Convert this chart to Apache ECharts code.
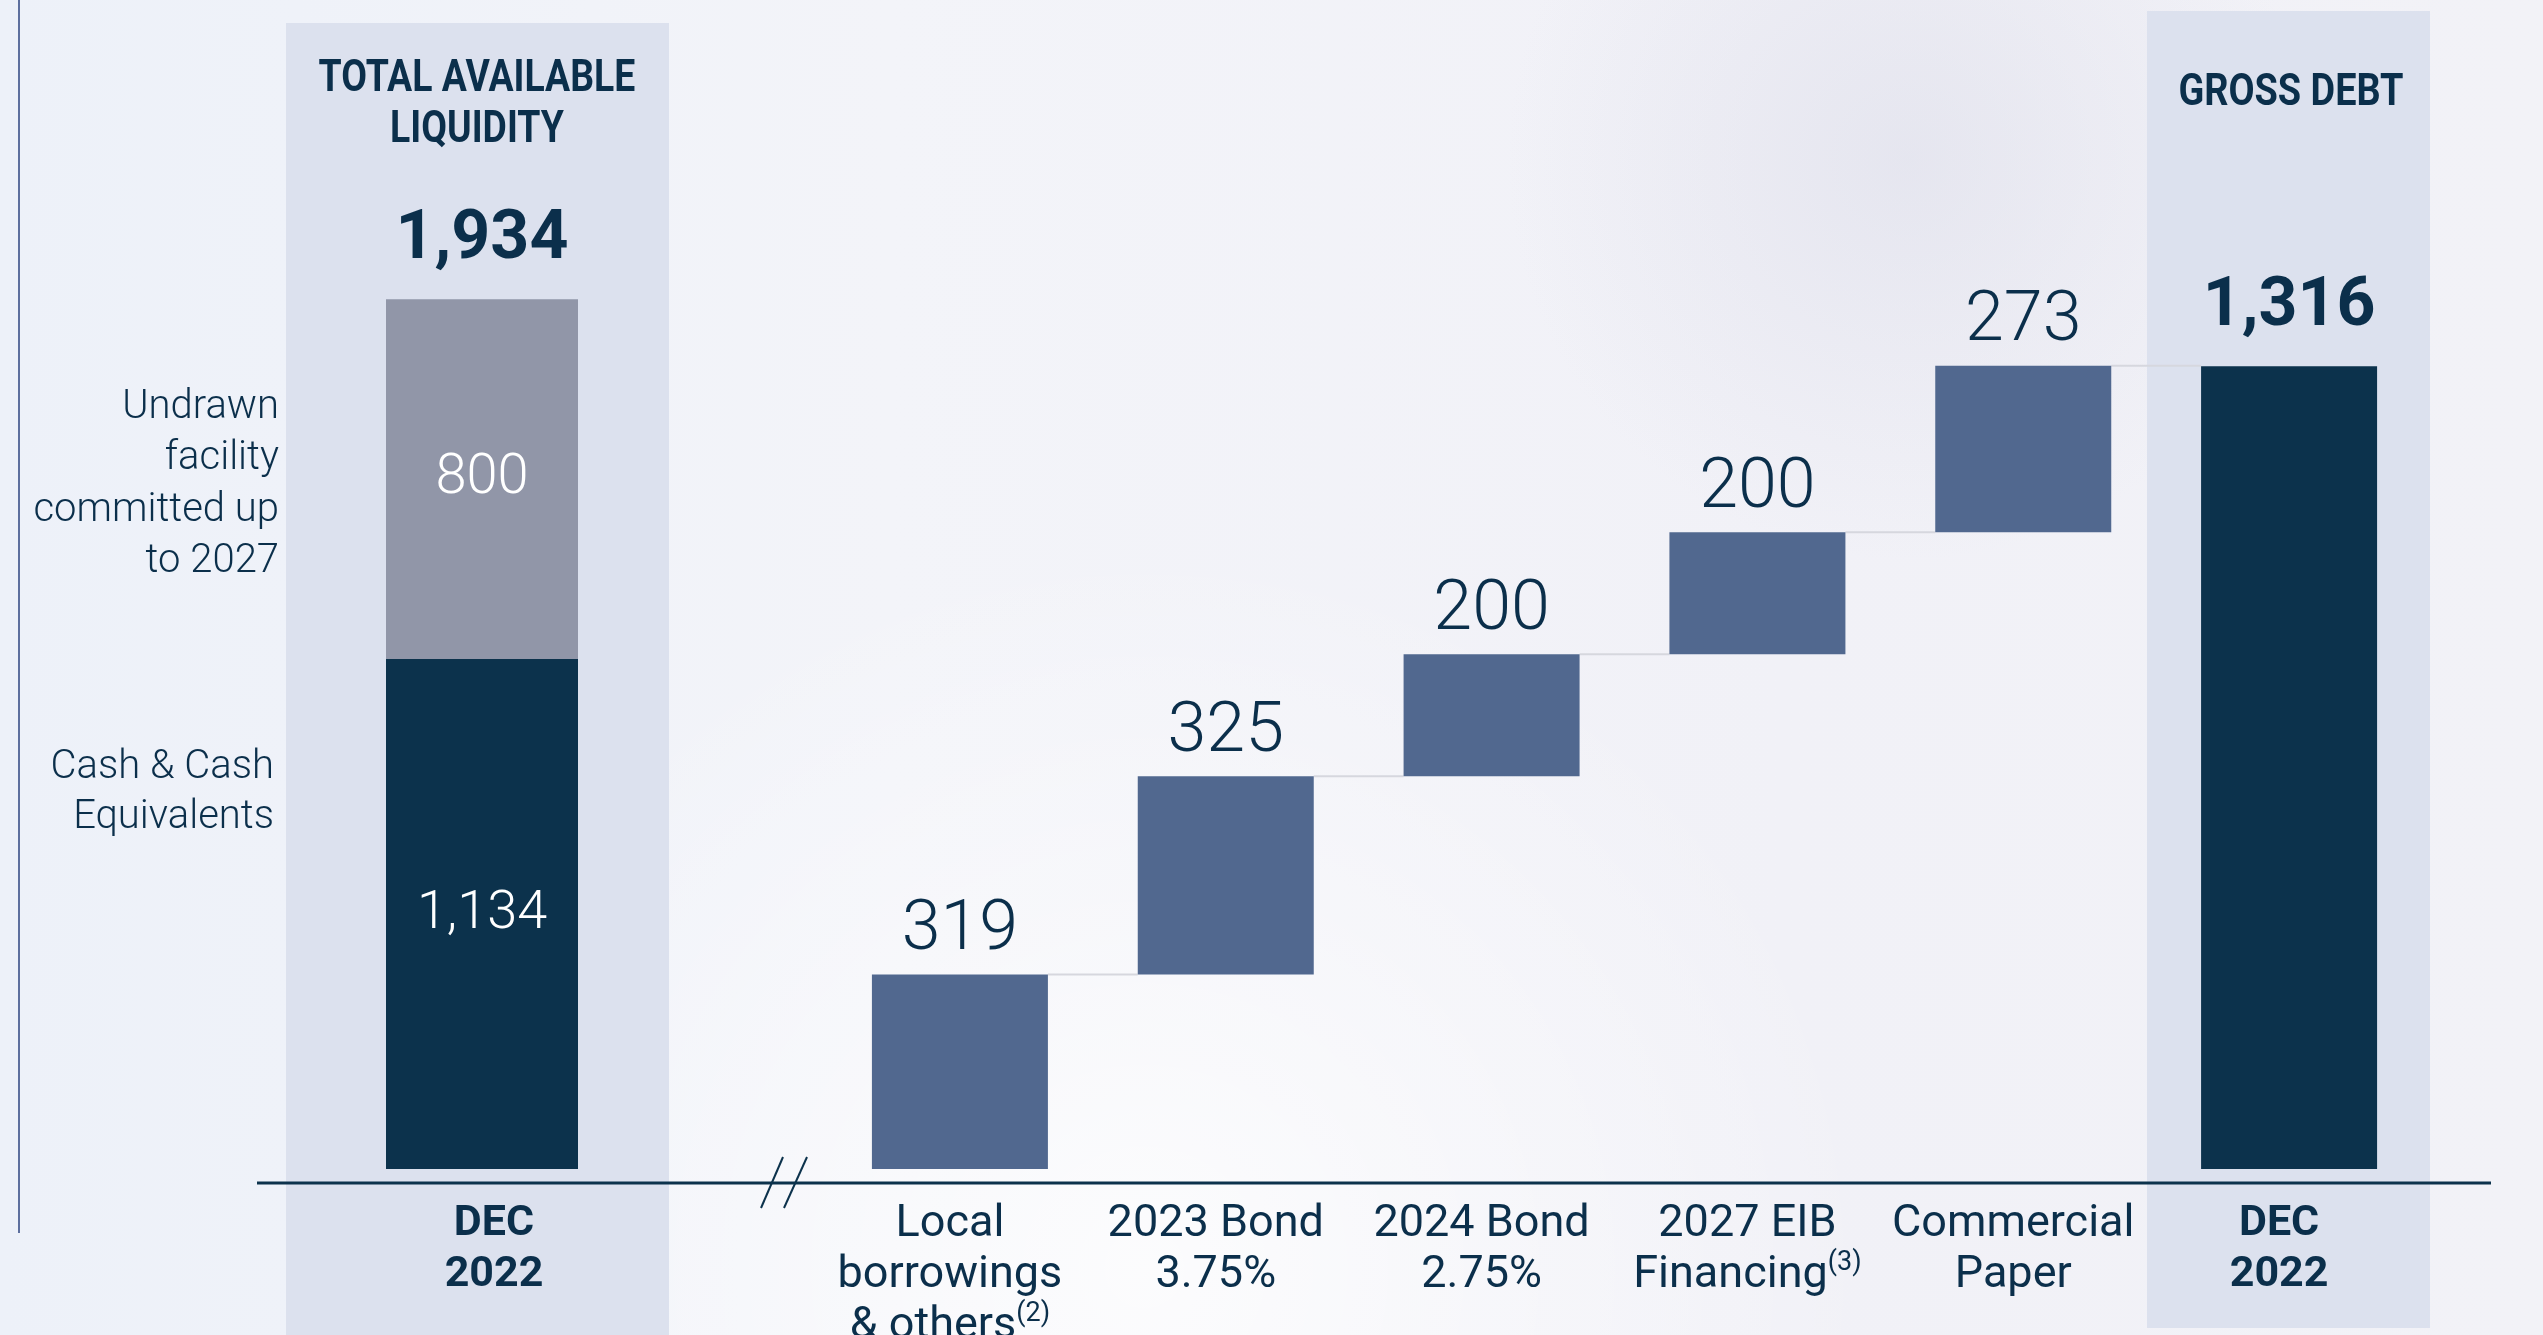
<!DOCTYPE html>
<html>
<head>
<meta charset="utf-8">
<title>Total available liquidity and gross debt, Dec 2022</title>
<script src="https://cdn.jsdelivr.net/npm/echarts@6/dist/echarts.min.js"></script>
<style>
  html, body { margin: 0; padding: 0; overflow: hidden; background: #f1f2f8; }
  #chart { width: 2543px; height: 1335px; }
</style>
</head>
<body>
<div id="chart"></div>
<script>
// ---- Data -------------------------------------------------------------
// Liquidity at December 2022 (one stacked column)
const liquidityCategory = ['DEC\n2022'];
const cashEquivalents = [1134];
const undrawnFacility = [800];

// Gross debt build-up (waterfall)
const debtCategories = ['Local\nborrowings\n& others', '2023 Bond\n3.75%', '2024 Bond\n2.75%',
                        '2027 EIB\nFinancing', 'Commercial\nPaper', 'DEC\n2022'];
const debtNotes = ['(2)', '', '', '(3)', '', ''];
const debtSteps = [319, 325, 200, 200, 273];
const grossDebt = 1316;

// ---- Derived series ---------------------------------------------------
const liquidityTotal = cashEquivalents[0] + undrawnFacility[0];
const runningTotals = [];
debtSteps.reduce((acc, v) => { runningTotals.push(acc + v); return acc + v; }, 0);
const stepOffsets = debtSteps.map((v, i) => (i === 0 ? 0 : runningTotals[i - 1])).concat([null]);
const stepValues = debtSteps.concat([null]);
const totalValues = debtSteps.map(() => null).concat([grossDebt]);
const connectorLevels = runningTotals.map((v, i) => [i, v]);

// ---- Styling ----------------------------------------------------------
const NAVY = '#0c324c';
const STEEL = '#51688f';
const GREY = '#9196a8';
const TEXT = '#0b2f4b';
const BAND = '#dce1ee';
const FONT = 'Roboto, "Noto Sans", sans-serif';
const fmt = v => Number(v).toLocaleString('en-US');

// ---- Layout (pixels) --------------------------------------------------
const W = 2543, H = 1335;
const AXIS_Y = 1183;
const LEFT_GRID = { left: 290, width: 384 };
const RIGHT_GRID = { left: 827, width: 1595 };
const LEFT_BAR_W = 192;
const RIGHT_BAR_W = 176;

const chart = echarts.init(document.getElementById('chart'), null, { renderer: 'canvas', width: W, height: H });

const axisLabelBase = {
  interval: 0,
  margin: 16,
  color: TEXT,
  fontFamily: FONT,
  fontSize: 45,
  lineHeight: 51,
  fontWeight: 400
};

const option = {
  animation: false,
  backgroundColor: 'transparent',
  graphic: {
    elements: [
      {
        type: 'rect', z: -10, silent: true,
        shape: { x: 0, y: 0, width: W, height: H },
        style: {
          fill: new echarts.graphic.LinearGradient(0, 0, 1, 0, [
            { offset: 0, color: '#edf1f9' },
            { offset: 0.35, color: '#f3f4f9' },
            { offset: 0.7, color: '#f1f1f7' },
            { offset: 1, color: '#f2f2f7' }
          ])
        }
      },
      {
        type: 'rect', z: -9, silent: true,
        shape: { x: 0, y: 0, width: W, height: H },
        style: {
          fill: new echarts.graphic.RadialGradient(0.45, 0.95, 0.55, [
            { offset: 0, color: 'rgba(255,255,255,0.75)' },
            { offset: 1, color: 'rgba(255,255,255,0)' }
          ])
        }
      },
      {
        type: 'rect', z: -9, silent: true,
        shape: { x: 0, y: 0, width: W, height: H },
        style: {
          fill: new echarts.graphic.RadialGradient(0.75, 0.12, 0.3, [
            { offset: 0, color: 'rgba(215,216,230,0.45)' },
            { offset: 1, color: 'rgba(215,216,230,0)' }
          ])
        }
      },
      // highlighted column panels
      { type: 'rect', z: -8, silent: true, shape: { x: 286, y: 23, width: 383, height: H - 23 }, style: { fill: BAND } },
      { type: 'rect', z: -8, silent: true, shape: { x: 2147, y: 11, width: 283, height: 1317 }, style: { fill: BAND } },
      // left rule
      { type: 'line', z: -7, silent: true, shape: { x1: 19, y1: 0, x2: 19, y2: 1233 }, style: { stroke: '#5d6f9e', lineWidth: 2 } },
      // shared baseline with axis break marks
      { type: 'line', z: 5, silent: true, shape: { x1: 257, y1: AXIS_Y, x2: 2491, y2: AXIS_Y }, style: { stroke: NAVY, lineWidth: 3 } },
      { type: 'line', z: 5, silent: true, shape: { x1: 761, y1: 1208, x2: 783, y2: 1157 }, style: { stroke: NAVY, lineWidth: 2 } },
      { type: 'line', z: 5, silent: true, shape: { x1: 784, y1: 1208, x2: 807, y2: 1157 }, style: { stroke: NAVY, lineWidth: 2 } },
      // panel headings
      {
        type: 'text', z: 5, silent: true, x: 477, y: 105, scaleX: 0.85,
        style: {
          text: 'TOTAL AVAILABLE\nLIQUIDITY', align: 'center', verticalAlign: 'middle',
          fill: TEXT, font: '700 44px ' + FONT, lineHeight: 51
        }
      },
      {
        type: 'text', z: 5, silent: true, x: 2291, y: 94, scaleX: 0.86,
        style: {
          text: 'GROSS DEBT', align: 'center', verticalAlign: 'middle',
          fill: TEXT, font: '700 44px ' + FONT
        }
      },
      // segment descriptions beside the liquidity column
      {
        type: 'text', z: 5, silent: true, x: 279, y: 485,
        style: {
          text: 'Undrawn\nfacility\ncommitted up\nto 2027', align: 'right', verticalAlign: 'middle',
          fill: TEXT, font: '300 40px ' + FONT, lineHeight: 51.5
        }
      },
      {
        type: 'text', z: 5, silent: true, x: 274, y: 793,
        style: {
          text: 'Cash & Cash\nEquivalents', align: 'right', verticalAlign: 'middle',
          fill: TEXT, font: '300 40px ' + FONT, lineHeight: 50.5
        }
      }
    ]
  },
  grid: [
    { left: LEFT_GRID.left, width: LEFT_GRID.width, top: 202, bottom: H - AXIS_Y, outerBoundsMode: 'none', containLabel: false },
    { left: RIGHT_GRID.left, width: RIGHT_GRID.width, top: 254, bottom: H - AXIS_Y, outerBoundsMode: 'none', containLabel: false }
  ],
  xAxis: [
    {
      type: 'category', gridIndex: 0, data: liquidityCategory,
      axisLine: { show: false }, axisTick: { show: false },
      axisLabel: Object.assign({}, axisLabelBase, { fontWeight: 700, fontSize: 43, padding: [0, 0, 0, 24] })
    },
    {
      type: 'category', gridIndex: 1, data: debtCategories,
      axisLine: { show: false }, axisTick: { show: false },
      axisLabel: Object.assign({}, axisLabelBase, {
        padding: [0, 20, 0, 0],
        formatter: (value, index) => {
          if (index === debtCategories.length - 1) return '{b|' + value + '}';
          return debtNotes[index] ? value + '{sup|' + debtNotes[index] + '}' : value;
        },
        rich: {
          b: { fontFamily: FONT, fontSize: 43, lineHeight: 51, fontWeight: 700, color: TEXT },
          sup: { fontFamily: FONT, fontSize: 27, lineHeight: 51, fontWeight: 400, color: TEXT, verticalAlign: 'top', padding: [0, 0, 14, 0] }
        }
      })
    }
  ],
  yAxis: [
    { type: 'value', gridIndex: 0, min: -31, max: 2150, show: false, splitLine: { show: false } },
    { type: 'value', gridIndex: 1, min: -23, max: 1500, show: false, splitLine: { show: false } }
  ],
  series: [
    {
      name: 'Cash & Cash Equivalents', type: 'bar', xAxisIndex: 0, yAxisIndex: 0,
      stack: 'liquidity', barWidth: LEFT_BAR_W, data: cashEquivalents,
      itemStyle: { color: NAVY },
      label: { show: true, position: 'inside', color: '#ffffff', fontFamily: FONT, fontSize: 54, fontWeight: 300, formatter: p => fmt(p.value) }
    },
    {
      name: 'Undrawn facility', type: 'bar', xAxisIndex: 0, yAxisIndex: 0,
      stack: 'liquidity', barWidth: LEFT_BAR_W, data: undrawnFacility,
      itemStyle: { color: GREY },
      label: { show: true, position: 'inside', color: '#ffffff', fontFamily: FONT, fontSize: 56, fontWeight: 300, formatter: p => fmt(p.value) },
      markPoint: {
        symbol: 'rect', symbolSize: 0, silent: true,
        data: [{ coord: [0, liquidityTotal], value: liquidityTotal }],
        label: { show: true, position: 'top', distance: 24, color: TEXT, fontFamily: FONT, fontSize: 68, fontWeight: 700, formatter: p => fmt(p.value) }
      }
    },
    {
      name: 'offset', type: 'bar', xAxisIndex: 1, yAxisIndex: 1,
      stack: 'debt', barWidth: RIGHT_BAR_W, data: stepOffsets, silent: true,
      itemStyle: { color: 'transparent' }
    },
    {
      name: 'Debt items', type: 'bar', xAxisIndex: 1, yAxisIndex: 1,
      stack: 'debt', barWidth: RIGHT_BAR_W, data: stepValues,
      itemStyle: { color: STEEL },
      label: { show: true, position: 'top', distance: 8, color: TEXT, fontFamily: FONT, fontSize: 70, fontWeight: 300, formatter: p => fmt(p.value) }
    },
    {
      name: 'Gross debt', type: 'bar', xAxisIndex: 1, yAxisIndex: 1,
      stack: 'debt', barWidth: RIGHT_BAR_W, data: totalValues,
      itemStyle: { color: NAVY },
      label: { show: true, position: 'top', distance: 24, color: TEXT, fontFamily: FONT, fontSize: 68, fontWeight: 700, formatter: p => fmt(p.value) }
    },
    {
      name: 'connectors', type: 'custom', xAxisIndex: 1, yAxisIndex: 1,
      data: connectorLevels, silent: true, z: 1,
      renderItem: (params, api) => {
        const i = api.value(0);
        const level = api.value(1);
        const a = api.coord([i, level]);
        const b = api.coord([i + 1, level]);
        return {
          type: 'line',
          shape: { x1: a[0] + RIGHT_BAR_W / 2, y1: a[1], x2: b[0] - RIGHT_BAR_W / 2, y2: b[1] },
          style: { stroke: '#d6d7de', lineWidth: 2 }
        };
      }
    }
  ]
};

chart.setOption(option);
</script>
</body>
</html>
